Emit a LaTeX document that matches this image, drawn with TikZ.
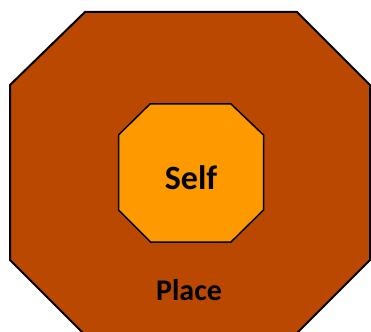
\documentclass[tikz,border=0pt]{standalone}
\usepackage{fontspec}
\setmainfont{Carlito}
\definecolor{outerc}{RGB}{186,72,0}
\definecolor{innerc}{RGB}{255,153,0}
\begin{document}
\begin{tikzpicture}[x=1pt,y=-1pt,
  octo/.style={draw=black,line join=miter},
  lbl/.style={font=\bfseries,text=black,inner sep=0pt}]
\useasboundingbox (0,0) rectangle (371,331);
\clip (0,0) rectangle (371,331);
\draw[octo,fill=outerc,line width=2pt]
  (85,12) -- (297,12) -- (370,85) -- (370,260) -- (296,334) -- (84,334) -- (10,260) -- (10,85) -- cycle;
\draw[octo,fill=innerc,line width=1.5pt]
  (150,104) -- (231,104) -- (263.5,135) -- (263.5,210) -- (231,242) -- (150.5,242) -- (118.5,210) -- (118.5,135) -- cycle;
\node[lbl,font=\bfseries\fontsize{34}{36}\selectfont,anchor=base] (self) at (191,189) {Self};
\node[lbl,font=\bfseries\fontsize{30}{32}\selectfont,anchor=base] (place) at (189,300) {Place};
\end{tikzpicture}
\end{document}
